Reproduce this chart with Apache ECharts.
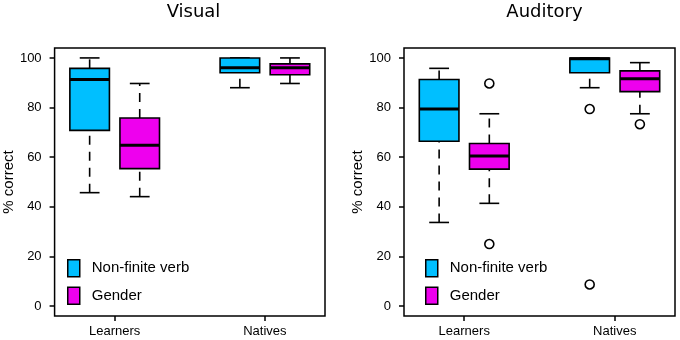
<!DOCTYPE html>
<html>
<head>
<meta charset="utf-8">
<script src="https://cdn.jsdelivr.net/npm/echarts@6/dist/echarts.min.js"></script>
<style>
html, body { margin: 0; padding: 0; background: #fff; }
#main { width: 680px; height: 340px; }
</style>
</head>
<body>
<div id="main"></div>
<script>
// categories and groups
var categories = ['Learners', 'Natives'];
var groups = ['Non-finite verb', 'Gender'];
var panels = ['Visual', 'Auditory'];
var yTicks = [0, 20, 40, 60, 80, 100];

// box stats per category: [low whisker, Q1, median, Q3, high whisker]
var visualVerb = [[45.7, 70.8, 91.3, 95.8, 100], [88.0, 94.0, 96.0, 100, 100]];
var visualGender = [[44.1, 55.4, 64.8, 75.8, 89.7], [89.7, 93.2, 96.0, 97.6, 100]];
var auditoryVerb = [[33.7, 66.4, 79.4, 91.3, 95.8], [88.0, 94.0, 99.7, 100, 100]];
var auditoryGender = [[41.4, 55.2, 60.5, 65.5, 77.5], [77.5, 86.4, 91.6, 94.8, 98.1]];

// outliers per category
var visualVerbOut = [[], []];
var visualGenderOut = [[], []];
var auditoryVerbOut = [[], [79.4, 8.7]];
var auditoryGenderOut = [[89.7, 25.0], [73.3]];

var colors = ['#00BFFF', '#EE00EE'];
var font = "'Liberation Sans', Arial, sans-serif";

// box slots on the x scale (R style at = 1,2,4,5)
var slots = [[1, 4], [2, 5]];
var xTicks = [1.5, 4.5];

var myChart = echarts.init(document.getElementById('main'));

function renderBox(params, api) {
    var x = api.value(0);
    var lo = api.coord([x, api.value(1)]);
    var q1 = api.coord([x, api.value(2)]);
    var med = api.coord([x, api.value(3)]);
    var q3 = api.coord([x, api.value(4)]);
    var hi = api.coord([x, api.value(5)]);
    var cx = lo[0];
    var hw = api.size([0.395, 0])[0];
    var cw = hw / 2;
    var line = { stroke: '#000', lineWidth: 1.6 };
    var dash = { stroke: '#000', lineWidth: 1.6, lineDash: [9, 7] };
    return {
        type: 'group',
        children: [
            { type: 'line', shape: { x1: cx, y1: lo[1], x2: cx, y2: q1[1] }, style: dash },
            { type: 'line', shape: { x1: cx, y1: q3[1], x2: cx, y2: hi[1] }, style: dash },
            { type: 'line', shape: { x1: cx - cw, y1: lo[1], x2: cx + cw, y2: lo[1] }, style: line },
            { type: 'line', shape: { x1: cx - cw, y1: hi[1], x2: cx + cw, y2: hi[1] }, style: line },
            { type: 'rect', shape: { x: cx - hw, y: q3[1], width: hw * 2, height: q1[1] - q3[1] },
              style: { fill: api.visual('color'), stroke: '#000', lineWidth: 1.6 } },
            { type: 'line', shape: { x1: cx - hw, y1: med[1], x2: cx + hw, y2: med[1] },
              style: { stroke: '#000', lineWidth: 3 } }
        ]
    };
}

function boxData(stats, g) {
    return stats.map(function (s, i) {
        return [slots[g][i]].concat(s);
    });
}
function outData(outs, g) {
    var d = [];
    outs.forEach(function (vals, i) {
        vals.forEach(function (v) { d.push([slots[g][i], v]); });
    });
    return d;
}

var stats = [[visualVerb, visualGender], [auditoryVerb, auditoryGender]];
var outs = [[visualVerbOut, visualGenderOut], [auditoryVerbOut, auditoryGenderOut]];
var gridLeft = [52, 404];
var gridWidth = [273, 271];
var legendLeft = [62, 420];

var series = [];
[0, 1].forEach(function (p) {
    [0, 1].forEach(function (g) {
        series.push({
            type: 'custom',
            name: groups[g],
            xAxisIndex: p,
            yAxisIndex: p,
            itemStyle: { color: colors[g], borderColor: '#000', borderWidth: 1.5 },
            renderItem: renderBox,
            encode: { x: 0, y: [1, 2, 3, 4, 5] },
            data: boxData(stats[p][g], g)
        });
        series.push({
            type: 'scatter',
            name: 'out',
            xAxisIndex: p,
            yAxisIndex: p,
            symbol: 'circle',
            symbolSize: 9,
            z: 5,
            itemStyle: { color: '#fff', borderColor: '#000', borderWidth: 1.6, opacity: 1 },
            data: outData(outs[p][g], g)
        });
    });
});

option = {
    animation: false,
    title: panels.map(function (t, p) {
        return {
            text: t,
            left: gridLeft[p] + gridWidth[p] / 2,
            textAlign: 'center',
            top: -2,
            textStyle: { fontFamily: 'DejaVu Sans', fontSize: 18, fontWeight: 'normal', color: '#000' }
        };
    }),
    legend: [0, 1].map(function (p) {
        return {
            data: groups,
            orient: 'vertical',
            left: legendLeft[p],
            top: 254,
            icon: 'rect',
            itemWidth: 12,
            itemHeight: 17,
            itemGap: 9,
            selectedMode: false,
            itemStyle: { borderColor: '#000', borderWidth: 1.5 },
            textStyle: { fontFamily: font, fontSize: 15, lineHeight: 17, color: '#000', padding: [0, 0, 0, 7] }
        };
    }),
    grid: [0, 1].map(function (p) {
        return {
            left: gridLeft[p], top: 48, width: gridWidth[p], height: 268,
            show: true, borderColor: '#000', borderWidth: 1.5, backgroundColor: 'transparent'
        };
    }),
    xAxis: [0, 1].map(function (p) {
        return {
            type: 'value', gridIndex: p, min: 0.3, max: 5.7,
            splitLine: { show: false },
            axisLine: { show: false, onZero: false },
            axisTick: { show: true, length: 5, customValues: xTicks, lineStyle: { color: '#000', width: 1.5 } },
            axisLabel: {
                customValues: xTicks,
                color: '#000', fontFamily: font, fontSize: 13, margin: 9,
                formatter: function (v) { return categories[xTicks.indexOf(v)]; }
            }
        };
    }),
    yAxis: [0, 1].map(function (p) {
        return {
            type: 'value', gridIndex: p, min: -4, max: 104,
            name: '% correct', nameLocation: 'middle', nameGap: 37,
            nameTextStyle: { fontFamily: font, fontSize: 15, color: '#000' },
            splitLine: { show: false },
            axisLine: { show: false, onZero: false },
            axisTick: { show: true, length: 5, customValues: yTicks, lineStyle: { color: '#000', width: 1.5 } },
            axisLabel: { customValues: yTicks, color: '#000', fontFamily: font, fontSize: 13, margin: 13 }
        };
    }),
    series: series
};

myChart.setOption(option);
window.addEventListener("resize", function () {
    myChart.resize();
});
</script>
</body>
</html>
